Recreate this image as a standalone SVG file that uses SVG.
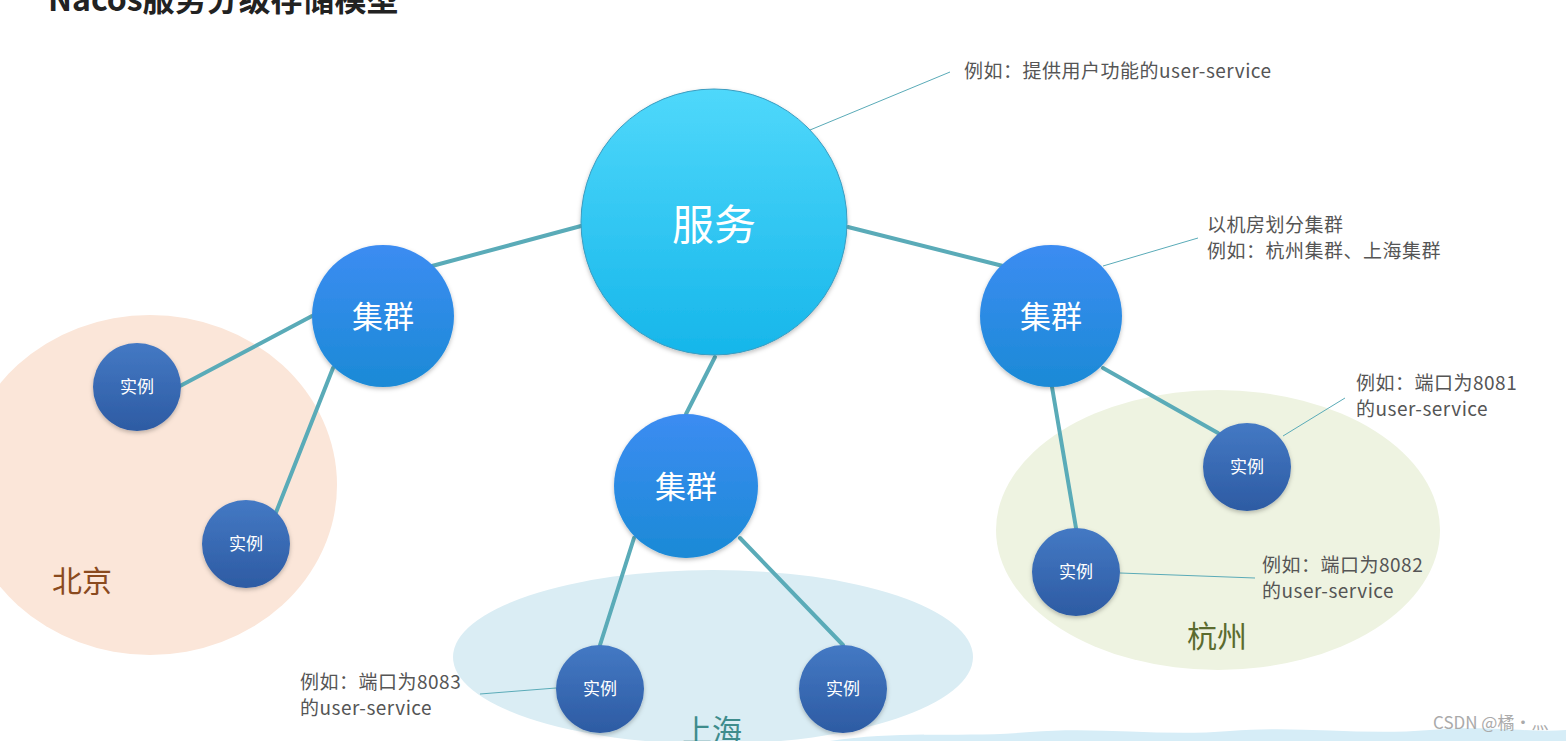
<svg xmlns="http://www.w3.org/2000/svg" width="1566" height="741" viewBox="0 0 1566 741">
<defs>
<linearGradient id="gSvc" x1="0" y1="0" x2="0" y2="1"><stop offset="0" stop-color="#4fd8fb"/><stop offset="1" stop-color="#16b6ea"/></linearGradient>
<linearGradient id="gClu" x1="0" y1="0" x2="0" y2="1"><stop offset="0" stop-color="#3c8cf2"/><stop offset="1" stop-color="#1b8ad6"/></linearGradient>
<linearGradient id="gIns" x1="0" y1="0" x2="0" y2="1"><stop offset="0" stop-color="#4479c4"/><stop offset="1" stop-color="#2d5ba3"/></linearGradient>
<filter id="sh" x="-20%" y="-20%" width="140%" height="140%"><feDropShadow dx="0" dy="2" stdDeviation="2" flood-color="#000" flood-opacity="0.25"/></filter>
<style>
.lbl{font-family:"Noto Sans CJK SC","Noto Sans",sans-serif;fill:#fff;text-anchor:middle}
.note{font-family:"Noto Sans CJK SC","Noto Sans",sans-serif;font-size:19px;letter-spacing:0.5px;fill:#555}
.link{stroke:#5aabb8;stroke-width:4;fill:none;stroke-linecap:round}
.lead{stroke:#5aabb8;stroke-width:1;fill:none}
.region{font-family:"Noto Sans CJK SC","Noto Sans",sans-serif;font-size:30px}
</style>
</defs>
<rect width="1566" height="741" fill="#fff"/>
<text x="48" y="11" font-family="'Noto Sans CJK SC','Noto Sans',sans-serif" font-size="32" font-weight="bold" fill="#222">Nacos服务分级存储模型</text>

<g id="region-beijing">
<ellipse cx="150" cy="485" rx="187" ry="170" fill="#fbe6d9"/>
<text class="region" x="52" y="592" fill="#8a4a1e">北京</text>
</g>
<g id="region-hangzhou">
<ellipse cx="1218" cy="530" rx="222" ry="140" fill="#eef3e1"/>
<text class="region" x="1187" y="647" fill="#5b6b2e">杭州</text>
</g>
<g id="region-shanghai">
<ellipse cx="713" cy="657" rx="260" ry="87" fill="#daedf4"/>
<text class="region" x="682" y="741" font-size="32" fill="#3e8c8c">上海</text>
</g>

<path d="M830 741 C 900 730, 960 738, 1030 732 C 1100 726, 1160 737, 1230 731 C 1300 725, 1360 736, 1430 730 C 1490 725, 1530 733, 1566 730 L1566 741 Z" fill="#d6edf7"/>

<g id="connectors">
<line class="link" x1="581" y1="226" x2="432" y2="266"/>
<line class="link" x1="848" y1="227" x2="1003" y2="266"/>
<line class="link" x1="715" y1="357" x2="686" y2="414"/>
<line class="link" x1="312" y1="316" x2="180" y2="386"/>
<line class="link" x1="333" y1="368" x2="275" y2="515"/>
<line class="link" x1="634" y1="538" x2="600" y2="645"/>
<line class="link" x1="740" y1="538" x2="843" y2="645"/>
<line class="link" x1="1103" y1="368" x2="1218" y2="433"/>
<line class="link" x1="1052" y1="387" x2="1076" y2="528"/>
<line class="lead" x1="810" y1="130" x2="950" y2="72"/>
<line class="lead" x1="1103" y1="266" x2="1198" y2="238"/>
<line class="lead" x1="1283" y1="436" x2="1345" y2="398"/>
<line class="lead" x1="1120" y1="573" x2="1255" y2="578"/>
<line class="lead" x1="480" y1="694" x2="556" y2="688"/>
</g>

<g id="service">
<circle cx="714" cy="222" r="133" fill="url(#gSvc)" stroke="#3a9cc0" stroke-width="1" filter="url(#sh)"/>
<text class="lbl" x="714" y="240" font-size="42">服务</text>
</g>
<g id="cluster-left">
<circle cx="383" cy="316" r="71" fill="url(#gClu)" filter="url(#sh)"/>
<text class="lbl" x="383" y="328" font-size="31">集群</text>
</g>
<g id="cluster-right">
<circle cx="1051" cy="316" r="71" fill="url(#gClu)" filter="url(#sh)"/>
<text class="lbl" x="1051" y="328" font-size="31">集群</text>
</g>
<g id="cluster-middle">
<circle cx="686" cy="486" r="72" fill="url(#gClu)" filter="url(#sh)"/>
<text class="lbl" x="686" y="498" font-size="31">集群</text>
</g>

<g id="instance-bj1"><circle cx="137" cy="387" r="44" fill="url(#gIns)" filter="url(#sh)"/><text class="lbl" x="137" y="393" font-size="17">实例</text></g>
<g id="instance-bj2"><circle cx="246" cy="544" r="44" fill="url(#gIns)" filter="url(#sh)"/><text class="lbl" x="246" y="550" font-size="17">实例</text></g>
<g id="instance-sh1"><circle cx="600" cy="689" r="44" fill="url(#gIns)" filter="url(#sh)"/><text class="lbl" x="600" y="695" font-size="17">实例</text></g>
<g id="instance-sh2"><circle cx="843" cy="689" r="44" fill="url(#gIns)" filter="url(#sh)"/><text class="lbl" x="843" y="695" font-size="17">实例</text></g>
<g id="instance-hz1"><circle cx="1247" cy="467" r="44" fill="url(#gIns)" filter="url(#sh)"/><text class="lbl" x="1247" y="473" font-size="17">实例</text></g>
<g id="instance-hz2"><circle cx="1076" cy="572" r="44" fill="url(#gIns)" filter="url(#sh)"/><text class="lbl" x="1076" y="578" font-size="17">实例</text></g>

<g id="notes">
<text class="note" x="964" y="78">例如：提供用户功能的user-service</text>
<text class="note" x="1207" y="232">以机房划分集群</text>
<text class="note" x="1207" y="258">例如：杭州集群、上海集群</text>
<text class="note" x="1356" y="390">例如：端口为8081</text>
<text class="note" x="1356" y="416">的user-service</text>
<text class="note" x="1262" y="572">例如：端口为8082</text>
<text class="note" x="1262" y="598">的user-service</text>
<text class="note" x="300" y="689">例如：端口为8083</text>
<text class="note" x="300" y="715">的user-service</text>
</g>
<text x="1433" y="729" font-family="'Noto Sans CJK SC','Noto Sans',sans-serif" font-size="17" fill="#aaa">CSDN @橘·灬</text>
</svg>
